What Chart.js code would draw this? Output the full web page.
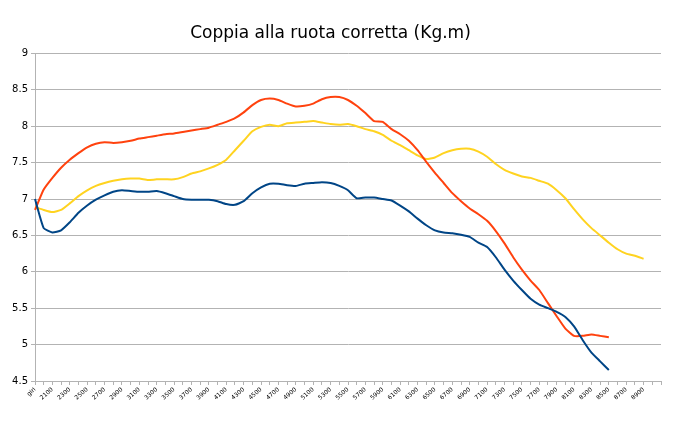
<!DOCTYPE html>
<html>
<head>
<meta charset="utf-8">
<script src="https://cdn.jsdelivr.net/npm/chart.js@4.4.0/dist/chart.umd.min.js"></script>
<style>
  body { margin: 0; background: #fff; }
  #wrap { width: 680px; height: 422px; position: relative; }
</style>
</head>
<body>
<div id="wrap"><canvas id="coppia"></canvas></div>
<script>
// giri motore (una categoria ogni 100 giri, etichetta una sì e una no)
var rpm = ["giri", "2000", "2100", "2200", "2300", "2400", "2500", "2600", "2700", "2800",
  "2900", "3000", "3100", "3200", "3300", "3400", "3500", "3600", "3700", "3800",
  "3900", "4000", "4100", "4200", "4300", "4400", "4500", "4600", "4700", "4800",
  "4900", "5000", "5100", "5200", "5300", "5400", "5500", "5600", "5700", "5800",
  "5900", "6000", "6100", "6200", "6300", "6400", "6500", "6600", "6700", "6800",
  "6900", "7000", "7100", "7200", "7300", "7400", "7500", "7600", "7700", "7800",
  "7900", "8000", "8100", "8200", "8300", "8400", "8500", "8600", "8700", "8800",
  "8900", "", ""];

var blu = [7.00, 6.60, 6.54, 6.57, 6.68, 6.81, 6.91, 6.99, 7.05, 7.10,
  7.12, 7.11, 7.10, 7.10, 7.11, 7.08, 7.04, 7.00, 6.99, 6.99,
  6.99, 6.97, 6.93, 6.92, 6.97, 7.08, 7.16, 7.21, 7.21, 7.19,
  7.18, 7.21, 7.22, 7.23, 7.22, 7.18, 7.12, 7.01, 7.02, 7.02,
  7.00, 6.98, 6.91, 6.83, 6.73, 6.64, 6.57, 6.54, 6.53, 6.51,
  6.48, 6.40, 6.34, 6.20, 6.03, 5.88, 5.75, 5.63, 5.55, 5.50,
  5.45, 5.38, 5.25, 5.06, 4.89, 4.77, 4.65];

var arancio = [6.85, 7.13, 7.29, 7.43, 7.54, 7.63, 7.71, 7.76, 7.78, 7.77,
  7.78, 7.80, 7.83, 7.85, 7.87, 7.89, 7.90, 7.92, 7.94, 7.96,
  7.98, 8.02, 8.06, 8.11, 8.19, 8.29, 8.36, 8.38, 8.36, 8.31,
  8.27, 8.28, 8.31, 8.37, 8.40, 8.40, 8.36, 8.28, 8.18, 8.07,
  8.06, 7.96, 7.89, 7.80, 7.67, 7.51, 7.36, 7.22, 7.08, 6.97,
  6.87, 6.79, 6.70, 6.56, 6.39, 6.20, 6.03, 5.88, 5.75, 5.57,
  5.39, 5.22, 5.12, 5.12, 5.14, 5.12, 5.10];

var giallo = [6.89, 6.85, 6.82, 6.85, 6.94, 7.04, 7.12, 7.18, 7.22, 7.25,
  7.27, 7.28, 7.28, 7.26, 7.27, 7.27, 7.27, 7.30, 7.35, 7.38,
  7.42, 7.47, 7.54, 7.67, 7.80, 7.93, 7.99, 8.02, 8.00, 8.04,
  8.05, 8.06, 8.07, 8.05, 8.03, 8.02, 8.03, 8.00, 7.96, 7.93,
  7.88, 7.80, 7.74, 7.67, 7.60, 7.55, 7.57, 7.63, 7.67, 7.69,
  7.69, 7.65, 7.58, 7.48, 7.40, 7.35, 7.31, 7.29, 7.25, 7.21,
  7.12, 7.01, 6.86, 6.72, 6.60, 6.50, 6.40, 6.31, 6.25, 6.22,
  6.18];

Chart.defaults.font.family = "'DejaVu Sans', sans-serif";
Chart.defaults.color = "#000";

new Chart(document.getElementById("coppia"), {
  type: "line",
  data: {
    labels: rpm,
    datasets: [
      { label: "Serie 1", data: blu, borderColor: "#004586" },
      { label: "Serie 2", data: arancio, borderColor: "#ff420e" },
      { label: "Serie 3", data: giallo, borderColor: "#ffd320" }
    ]
  },
  options: {
    responsive: true,
    maintainAspectRatio: false,
    animation: false,
    layout: { padding: { left: 0, right: 19, top: 0, bottom: 0 } },
    elements: {
      point: { radius: 0 },
      line: { borderWidth: 2, tension: 0.15, fill: false }
    },
    plugins: {
      legend: { display: false },
      tooltip: { enabled: false },
      title: {
        display: true,
        text: "Coppia alla ruota corretta (Kg.m)",
        color: "#000",
        font: { size: 17, weight: "normal" },
        padding: { top: 23, bottom: 10 }
      }
    },
    scales: {
      x: {
        offset: false,
        grid: { drawOnChartArea: false, color: "#b3b3b3", tickLength: 4 },
        border: { color: "#b3b3b3" },
        ticks: {
          autoSkip: false,
          minRotation: 42,
          maxRotation: 42,
          padding: 1,
          font: { size: 6 },
          callback: function (value, index) {
            return index % 2 === 0 ? rpm[index] : "";
          }
        },
        afterFit: function (scale) { scale.height = 41; }
      },
      y: {
        min: 4.5,
        max: 9,
        grid: { color: "#b3b3b3", tickLength: 4 },
        border: { color: "#b3b3b3" },
        ticks: {
          stepSize: 0.5,
          padding: 3,
          font: { size: 10 },
          callback: function (value) { return String(value); }
        },
        afterFit: function (scale) { scale.width = 35; }
      }
    }
  }
});
</script>
</body>
</html>
